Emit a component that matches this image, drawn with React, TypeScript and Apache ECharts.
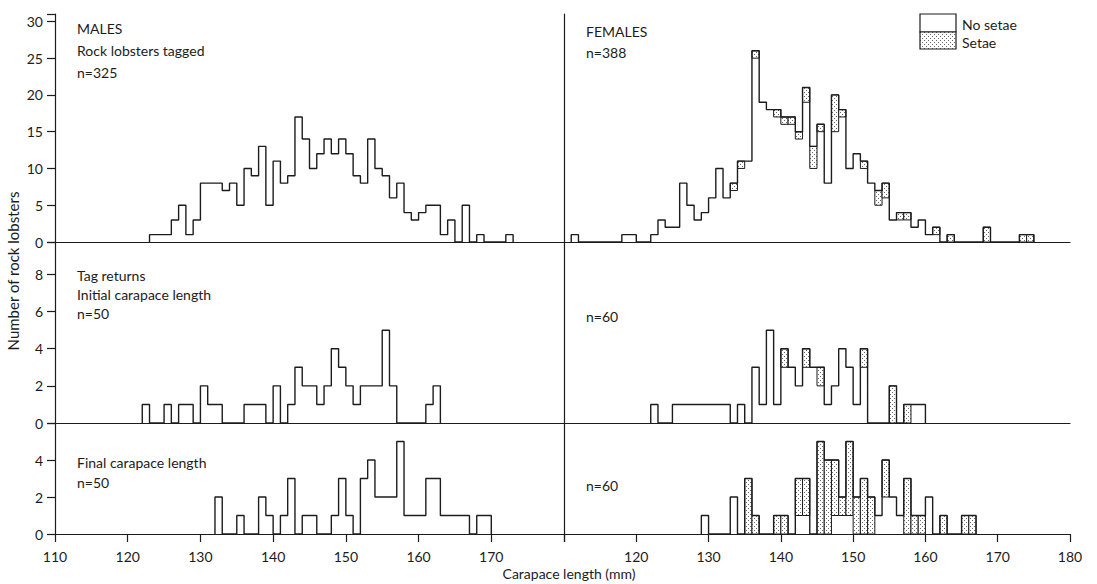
import React, { useEffect, useRef } from "react";
import * as echarts from "echarts";

// ---- data (counts per 1 mm bin, starting at the given carapace length) ----
const maleTaggedStart = 123;
const maleTagged = [1,1,1,3,5,1,3,8,8,8, 7,8,5,10,9,13,5,11,8,9, 17,14,10,12,14,12,14,12,9,8, 14,10,9,6,8,4,3,4,5,5, 1,3,0,5,0,1,0,0,0,1];

const maleInitialStart = 122;
const maleInitial = [1,0,0,1,0,1,1,0,2,1, 1,0,0,0,1,1,1,0,2,0, 1,3,2,2,1,2,4,3,2,1, 2,2,2,5,2,0,0,0,0,1, 2];

const maleFinalStart = 132;
const maleFinal = [2,0,0,1,0,0,2,1,0,1, 3,0,1,1,0,0,1,3,1,0, 3,4,2,2,2,5,1,1,1,3, 3,1,1,1,1,0,1,1];

const femaleTaggedStart = 111;
const femaleTagged = [1,0,0,0,0,0,0,1,1,0, 0,1,3,2,2,8,5,3,4,6, 10,6,8,11,11,26,19,18,18,17, 17,15,21,13,16,8,20,18,10,12, 11,8,7,8,3,4,4,2,3,1, 2,0,1,0,0,0,0,2,0,0, 0,0,1,1];
const femaleTaggedSetae = [0,0,0,0,0,0,0,0,0,0, 0,0,0,0,0,0,0,0,0,0, 0,0,1,1,0,1,0,0,1,1, 1,1,2,3,1,0,5,1,0,0, 1,0,2,2,0,1,1,0,0,0, 1,0,1,0,0,0,0,2,0,0, 0,0,1,1];

const femaleInitialStart = 122;
const femaleInitial = [1,0,0,1,1,1,1,1,1,1, 1,0,1,0,3,1,5,1,4,3, 2,4,3,3,1,2,4,3,1,4, 0,0,0,2,0,1,1,1];
const femaleInitialSetae = [0,0,0,0,0,0,0,0,0,0, 0,0,0,0,0,0,0,0,1,0, 0,1,0,1,0,0,0,0,0,1, 0,0,0,2,0,1,0,0];

const femaleFinalStart = 129;
const femaleFinal = [1,0,0,0,2,0,3,1,0,0, 1,1,0,3,3,0,5,4,4,2, 5,2,3,2,1,4,2,1,3,1, 1,2,0,1,0,0,1,1];
const femaleFinalSetae = [0,0,0,0,0,0,3,1,0,0, 1,1,0,2,2,0,5,4,3,1, 4,2,3,2,0,2,0,0,3,1, 1,0,0,1,0,0,1,1];

const xTicks = [110, 120, 130, 140, 150, 160, 170, 180];
const topTicks = [0, 5, 10, 15, 20, 25, 30];
const midTicks = [0, 2, 4, 6, 8];
const lowTicks = [0, 2, 4];

// ---- helpers ----
function histPoints(start: number, counts: number[]) {
  const pts: number[][] = [[start, 0]];
  counts.forEach((c, i) => pts.push([start + i, c]));
  pts.push([start + counts.length, 0]);
  return pts;
}
function setaeRects(start: number, counts: number[], setae: number[]) {
  const out: number[][] = [];
  setae.forEach((s, i) => {
    if (s > 0) out.push([start + i, counts[i] - s, counts[i]]);
  });
  return out;
}
function makeDots() {
  const c = document.createElement("canvas");
  c.width = 4;
  c.height = 4;
  const ctx = c.getContext("2d")!;
  ctx.fillStyle = "#ffffff";
  ctx.fillRect(0, 0, 4, 4);
  ctx.fillStyle = "#6a6a6a";
  ctx.fillRect(0, 0, 1, 1);
  ctx.fillRect(2, 2, 1, 1);
  return { image: c, repeat: "repeat" } as any;
}

const FONT = "Lato";
const INK = "#1c1c1c";

export default function App() {
  const ref = useRef<HTMLDivElement>(null);
  useEffect(() => {
    if (!ref.current) return;
    const chart = echarts.init(ref.current, undefined, { renderer: "svg" });
    const dots = makeDots();

    const rows = [
      { top: 14, height: 228, max: 31, interval: 5, ticks: topTicks },
      { top: 242, height: 181, max: 9.75, interval: 2, ticks: midTicks },
      { top: 423, height: 111, max: 6, interval: 2, ticks: lowTicks },
    ];
    const cols = [
      { left: 55, width: 509 },
      { left: 564, width: 506 },
    ];
    const grids: any[] = [];
    const xAxes: any[] = [];
    const yAxes: any[] = [];
    rows.forEach((r, ri) => {
      cols.forEach((c, ci) => {
        grids.push({ left: c.left, width: c.width, top: r.top, height: r.height, containLabel: false });
        const gi = grids.length - 1;
        const bottom = ri === 2;
        xAxes.push({
          type: "value",
          gridIndex: gi,
          min: 110,
          max: 180,
          interval: 10,
          axisLine: { show: true, lineStyle: { color: INK, width: 1.2 } },
          axisTick: { show: bottom, length: 8, lineStyle: { color: INK, width: 1.2 } },
          axisLabel: {
            show: bottom,
            margin: 15,
            fontFamily: FONT,
            fontSize: 14,
            color: INK,
            formatter: (v: number) =>
              xTicks.includes(v) && !(ci === 0 && v === 180) && !(ci === 1 && v === 110) ? String(v) : "",
          },
          splitLine: { show: false },
        });
        yAxes.push({
          type: "value",
          gridIndex: gi,
          min: 0,
          max: r.max,
          interval: r.interval,
          axisLine: { show: true, lineStyle: { color: INK, width: 1.2 } },
          axisTick: { show: ci === 0, length: 8, lineStyle: { color: INK, width: 1.2 } },
          axisLabel: {
            show: ci === 0,
            margin: 12,
            fontFamily: FONT,
            fontSize: 14,
            color: INK,
            showMaxLabel: true,
            formatter: (v: number) => (r.ticks.includes(v) ? String(v) : ""),
          },
          splitLine: { show: false },
        });
      });
    });

    const panels = [
      { gi: 0, start: maleTaggedStart, counts: maleTagged },
      { gi: 1, start: femaleTaggedStart, counts: femaleTagged, setae: femaleTaggedSetae },
      { gi: 2, start: maleInitialStart, counts: maleInitial },
      { gi: 3, start: femaleInitialStart, counts: femaleInitial, setae: femaleInitialSetae },
      { gi: 4, start: maleFinalStart, counts: maleFinal },
      { gi: 5, start: femaleFinalStart, counts: femaleFinal, setae: femaleFinalSetae },
    ];
    const series: any[] = [];
    panels.forEach((p) => {
      if (p.setae) {
        series.push({
          type: "custom",
          xAxisIndex: p.gi,
          yAxisIndex: p.gi,
          silent: true,
          z: 2,
          encode: { x: 0, y: [1, 2] },
          data: setaeRects(p.start, p.counts, p.setae),
          renderItem: (params: any, api: any) => {
            const b = api.value(0);
            const lo = api.value(1);
            const hi = api.value(2);
            const p0 = api.coord([b, hi]);
            const p1 = api.coord([b + 1, lo]);
            return {
              type: "rect",
              shape: { x: p0[0], y: p0[1], width: p1[0] - p0[0], height: p1[1] - p0[1] },
              style: { fill: dots, stroke: INK, lineWidth: 1 },
            };
          },
        });
      }
      series.push({
        type: "line",
        xAxisIndex: p.gi,
        yAxisIndex: p.gi,
        step: "end",
        symbol: "none",
        silent: true,
        z: 3,
        data: histPoints(p.start, p.counts),
        lineStyle: { color: INK, width: 1.4 },
      });
    });

    const txt = (x: number, y: number, s: string, size = 14) => ({
      type: "text",
      x,
      y,
      style: { text: s, font: `${size}px ${FONT}`, fill: INK, verticalAlign: "middle" },
    });

    chart.setOption({
      animation: false,
      backgroundColor: "#ffffff",
      grid: grids,
      xAxis: xAxes,
      yAxis: yAxes,
      series,
      graphic: [
        txt(77, 28, "MALES"),
        txt(77, 50, "Rock lobsters tagged"),
        txt(77, 72, "n=325"),
        txt(586, 31, "FEMALES"),
        txt(586, 52, "n=388"),
        txt(77, 275, "Tag returns"),
        txt(77, 294, "Initial carapace length"),
        txt(77, 313, "n=50"),
        txt(586, 316, "n=60"),
        txt(77, 462, "Final carapace length"),
        txt(77, 482, "n=50"),
        txt(586, 485, "n=60"),
        {
          type: "rect",
          shape: { x: 920, y: 14, width: 36, height: 18 },
          style: { fill: "#ffffff", stroke: INK, lineWidth: 1.2 },
        },
        {
          type: "rect",
          shape: { x: 920, y: 32, width: 36, height: 17 },
          style: { fill: dots, stroke: INK, lineWidth: 1.2 },
        },
        txt(962, 24, "No setae"),
        txt(962, 42, "Setae"),
        {
          type: "text",
          x: 13,
          y: 271,
          rotation: Math.PI / 2,
          style: {
            text: "Number of rock lobsters",
            font: `15px ${FONT}`,
            fill: INK,
            align: "center",
            verticalAlign: "middle",
          },
        },
        {
          type: "text",
          x: 569,
          y: 573,
          style: {
            text: "Carapace length (mm)",
            font: `14px ${FONT}`,
            fill: INK,
            align: "center",
            verticalAlign: "middle",
          },
        },
      ],
    });
    return () => chart.dispose();
  }, []);
  return <div ref={ref} style={{ position: "fixed", left: 0, top: 0, width: 1097, height: 584, background: "#fff" }} />;
}
